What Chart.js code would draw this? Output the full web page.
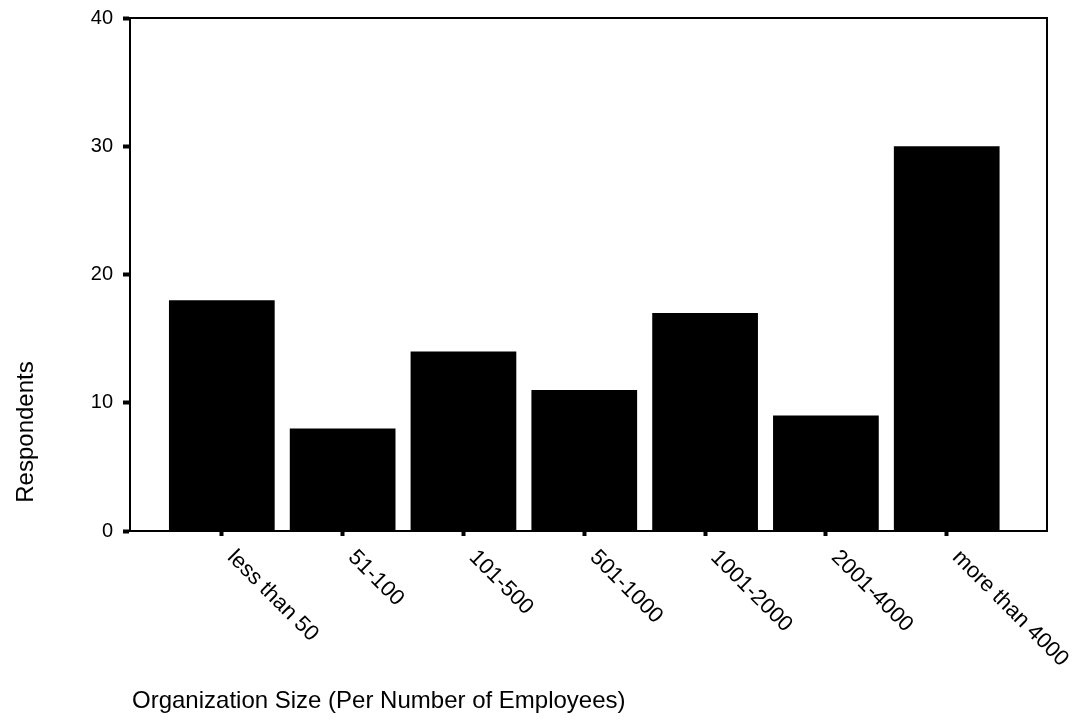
<!DOCTYPE html>
<html>
<head>
<meta charset="utf-8">
<script src="https://cdn.jsdelivr.net/npm/chart.js@4.4.0/dist/chart.umd.min.js"></script>
<style>
  html, body { margin: 0; padding: 0; background: #fff; }
  #wrap { position: relative; width: 1085px; height: 727px; }
</style>
</head>
<body>
<div id="wrap"><canvas id="sizeChart" width="1085" height="727"></canvas></div>
<script>
// organization size (employees) vs number of respondents
const sizeLabels = ["less than 50", "51-100", "101-500", "501-1000", "1001-2000", "2001-4000", "more than 4000"];
const respondents = [18, 8, 14, 11, 17, 9, 30];
const yTicks = [0, 10, 20, 30, 40];
const xTitle = "Organization Size (Per Number of Employees)";
const yTitle = "Respondents";

const FONT = "'Liberation Sans', Arial, Helvetica, sans-serif";

// frame, rotated category labels and axis titles
const decorations = {
    id: 'decorations',
    afterDraw(chart) {
        const ctx = chart.ctx;
        const area = chart.chartArea;
        const x = chart.scales.x;

        ctx.save();
        ctx.strokeStyle = '#000';
        ctx.lineWidth = 2;
        ctx.beginPath();
        ctx.moveTo(area.left - 4, area.top);
        ctx.lineTo(area.right, area.top);
        ctx.lineTo(area.right, area.bottom);
        ctx.stroke();

        ctx.fillStyle = '#000';
        ctx.font = '22px ' + FONT;
        ctx.textAlign = 'left';
        ctx.textBaseline = 'middle';
        sizeLabels.forEach((lbl, i) => {
            const px = x.getPixelForValue(i);
            ctx.save();
            ctx.translate(px + 9, area.bottom + 23);
            ctx.rotate(Math.PI / 4);
            ctx.fillText(lbl, 0, 0);
            ctx.restore();
        });

        ctx.font = '24px ' + FONT;
        ctx.textAlign = 'left';
        ctx.textBaseline = 'alphabetic';
        ctx.fillText(xTitle, 132, 708);

        ctx.save();
        ctx.translate(33, 432);
        ctx.rotate(-Math.PI / 2);
        ctx.textAlign = 'center';
        ctx.fillText(yTitle, 0, 0);
        ctx.restore();

        ctx.restore();
    }
};

const ctx = document.getElementById('sizeChart').getContext('2d');
const chart = new Chart(ctx, {
    type: 'bar',
    data: {
        datasets: [{
            label: yTitle,
            data: respondents.map((v, i) => ({x: i, y: v})),
            backgroundColor: '#000',
            borderWidth: 0,
            barPercentage: 0.875,
            categoryPercentage: 1
        }]
    },
    options: {
        responsive: false,
        animation: false,
        layout: {padding: {top: 18, right: 38, left: 0, bottom: 0}},
        plugins: {legend: {display: false}, tooltip: {enabled: false}},
        scales: {
            x: {
                type: 'linear',
                offset: false,
                min: -0.76,
                max: 6.83,
                afterFit: s => { s.height = 196; s.paddingLeft = 0; s.paddingRight = 0; },
                ticks: {display: false, stepSize: 1, includeBounds: false},
                grid: {offset: false, drawOnChartArea: false, drawTicks: true, tickLength: 5, tickWidth: 4, tickColor: '#000'},
                border: {display: true, color: '#000', width: 2}
            },
            y: {
                min: 0,
                max: 40,
                afterFit: s => { s.width = 130; s.paddingTop = 0; s.paddingBottom = 0; },
                afterBuildTicks: s => { s.ticks = yTicks.map(v => ({value: v})); },
                ticks: {color: '#000', font: {family: FONT, size: 20}, padding: 10},
                grid: {drawOnChartArea: false, drawTicks: true, tickLength: 7, tickWidth: 4, tickColor: '#000'},
                border: {display: true, color: '#000', width: 2}
            }
        }
    },
    plugins: [decorations]
});
</script>
</body>
</html>
